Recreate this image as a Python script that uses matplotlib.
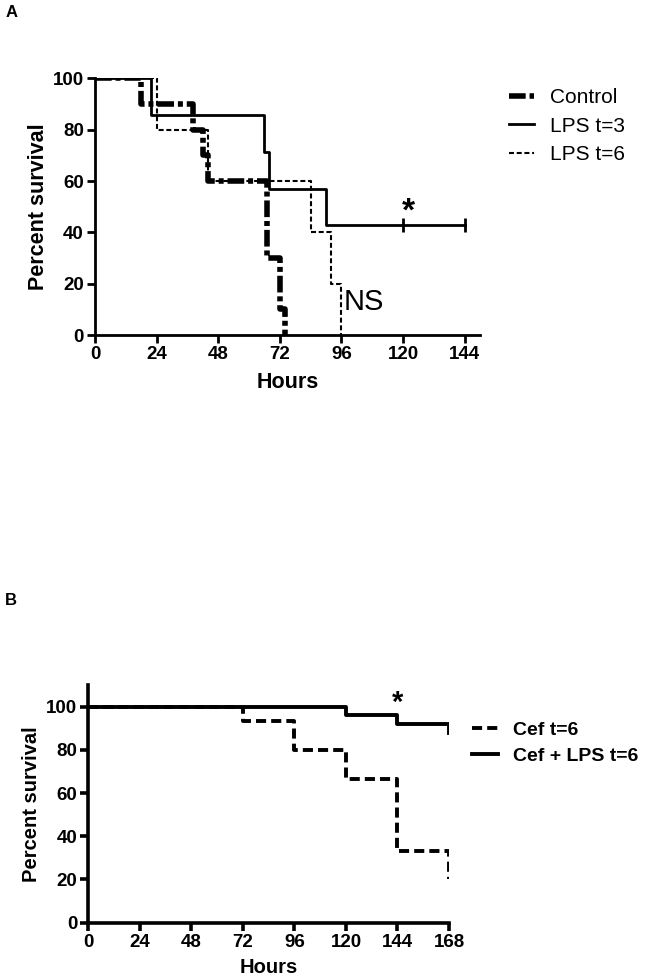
import numpy as np
import matplotlib
matplotlib.use("Agg")
import matplotlib.pyplot as plt

plt.rcParams['font.family'] = ['Liberation Sans', 'DejaVu Sans']

# panel A: survival steps (hours, percent)
ctrl_t = [0, 18, 38, 42, 44, 67, 72, 74]
ctrl_s = [100, 90, 80, 70, 60, 30, 10, 0]
lps3_t = [0, 22, 66, 68, 90, 144]
lps3_s = [100, 85.7, 71.4, 57.1, 42.9, 42.9]
lps3_cens_t = [120, 144]
lps3_cens_s = [42.9, 42.9]
lps6_t = [0, 24, 44, 84, 92, 96]
lps6_s = [100, 80, 60, 40, 20, 0]
labels_a = ["Control", "LPS t=3", "LPS t=6"]

# panel B
cef_t = [0, 72, 96, 120, 144, 168]
cef_s = [100, 93.3, 80, 66.7, 33.3, 20]
ceflps_t = [0, 120, 144, 168]
ceflps_s = [100, 96, 92, 88]
labels_b = ["Cef t=6", "Cef + LPS t=6"]

xticks_a = [0, 24, 48, 72, 96, 120, 144]
xticks_b = [0, 24, 48, 72, 96, 120, 144, 168]
yticks = [0, 20, 40, 60, 80, 100]

fig = plt.figure(figsize=(6.47, 9.8), dpi=100)

# ---- panel A ----
axA = fig.add_axes([0.1468, 0.658, 0.595, 0.262])
axA.step(ctrl_t, ctrl_s, where='post', color='black', lw=4,
         linestyle=(0, (3, 0.7, 0.9, 0.7)), label=labels_a[0])
axA.step(lps3_t, lps3_s, where='post', color='black', lw=2, label=labels_a[1])
axA.plot(lps3_cens_t, lps3_cens_s, linestyle='none', marker='|', color='black',
         markersize=10, markeredgewidth=2)
axA.step(lps6_t, lps6_s, where='post', color='black', lw=1.5,
         linestyle=(0, (2.4, 1.3)), label=labels_a[2])
axA.set_xlim(0, 150)
axA.set_ylim(0, 100)
axA.set_xticks(xticks_a)
axA.set_yticks(yticks)
axA.set_xlabel("Hours", fontsize=15.5, fontweight='bold', labelpad=6)
axA.set_ylabel("Percent survival", fontsize=15.5, fontweight='bold', labelpad=3)
axA.text(122, 42, "*", fontsize=24, fontweight='bold', ha='center', va='bottom')
axA.text(97, 13, "NS", fontsize=21, ha='left', va='center')
axA.legend(loc='upper left', bbox_to_anchor=(0.757, 0.929), bbox_transform=fig.transFigure,
           frameon=False, fontsize=15, handlelength=1.2, handletextpad=0.8, labelspacing=0.45)

# ---- panel B ----
axB = fig.add_axes([0.1365, 0.0585, 0.5575, 0.2425])
axB.step(cef_t, cef_s, where='post', color='black', lw=2.8,
         linestyle=(0, (2.6, 1.3)), label=labels_b[0])
axB.step(ceflps_t, ceflps_s, where='post', color='black', lw=2.8, label=labels_b[1])
axB.set_xlim(0, 168)
axB.set_ylim(0, 110)
axB.set_xticks(xticks_b)
axB.set_yticks(yticks)
axB.set_xlabel("Hours", fontsize=14.5, fontweight='bold', labelpad=5)
axB.set_ylabel("Percent survival", fontsize=14.5, fontweight='bold', labelpad=4)
axB.text(144, 95, "*", fontsize=21, fontweight='bold', ha='center', va='bottom')
axB.legend(loc='upper left', bbox_to_anchor=(0.703, 0.282), bbox_transform=fig.transFigure,
           frameon=False, handlelength=1.3, handletextpad=0.8, labelspacing=0.45,
           prop={'weight': 'bold', 'size': 14})

for ax, lw in ((axA, 2.0), (axB, 2.6)):
    for s in ('top', 'right'):
        ax.spines[s].set_visible(False)
    for s in ('left', 'bottom'):
        ax.spines[s].set_linewidth(lw)
    ax.tick_params(direction='out', length=6, width=lw, labelsize=13.5, pad=2)
    for lab in ax.get_xticklabels() + ax.get_yticklabels():
        lab.set_fontweight('bold')

fig.text(0.008, 0.995, "A", fontsize=12, fontweight='bold', va='top')
fig.text(0.008, 0.395, "B", fontsize=12, fontweight='bold', va='top')

fig.savefig("out.png", dpi=100)
